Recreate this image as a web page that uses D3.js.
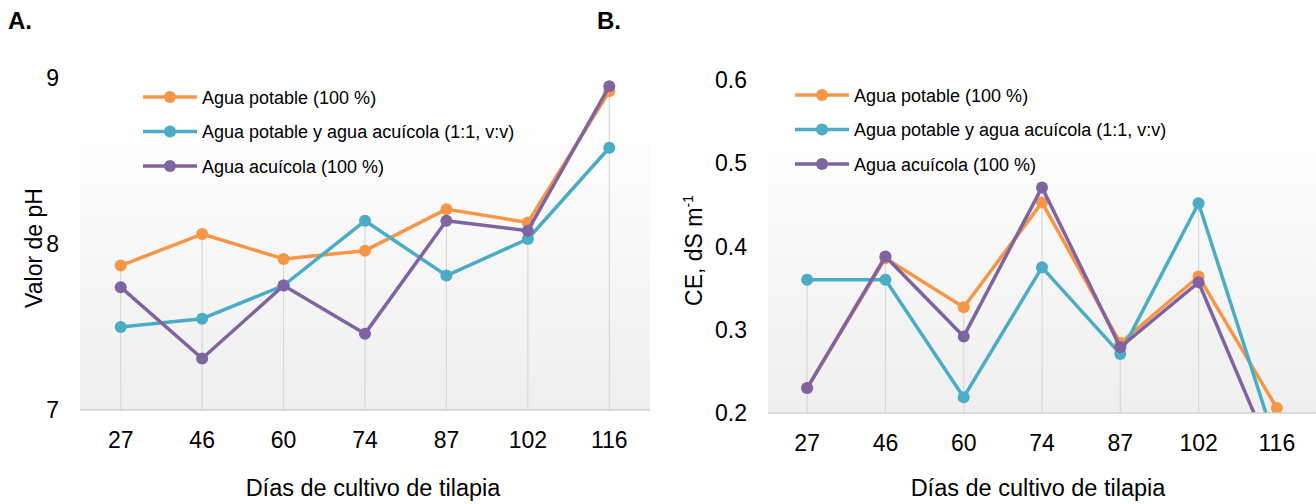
<!DOCTYPE html>
<html>
<head>
<meta charset="utf-8">
<script src="https://cdn.jsdelivr.net/npm/d3@7"></script>
<style>
  body { margin: 0; background: #fff; }
  svg { display: block; font-family: "Liberation Sans", Arial, sans-serif; }
</style>
</head>
<body>
<div id="container"></div>
<script>
// ---------- DATA ----------
const days = ['27', '46', '60', '74', '87', '102', '116'];
const seriesNames = [
    'Agua potable (100 %)',
    'Agua potable y agua acuícola (1:1, v:v)',
    'Agua acuícola (100 %)'
];
const seriesColors = ['#f79646', '#4bacc6', '#8064a2'];

// pH
const phPotable  = [7.87, 8.06, 7.91, 7.96, 8.21, 8.13, 8.92];
const phMezcla   = [7.50, 7.55, 7.75, 8.14, 7.81, 8.03, 8.58];
const phAcuicola = [7.74, 7.31, 7.75, 7.46, 8.14, 8.08, 8.95];
const phTicks = [7, 8, 9];

// CE, dS m-1
const cePotable  = [0.230, 0.386, 0.327, 0.453, 0.284, 0.364, 0.206];
const ceMezcla   = [0.360, 0.360, 0.219, 0.375, 0.271, 0.452, 0.159];
const ceAcuicola = [0.230, 0.388, 0.292, 0.471, 0.279, 0.357, 0.135];
const ceTicks = [0.2, 0.3, 0.4, 0.5, 0.6];

const W = 1316, H = 504;
const svg = d3.select('#container').append('svg')
    .attr('width', W)
    .attr('height', H);

const defs = svg.append('defs');
const grad = defs.append('linearGradient')
    .attr('id', 'bg')
    .attr('x1', 0).attr('y1', 0).attr('x2', 0).attr('y2', 1);
grad.append('stop').attr('offset', '0%').attr('stop-color', '#fefefe');
grad.append('stop').attr('offset', '100%').attr('stop-color', '#efefef');

function panel({ id, letter, letterX, left, right, top, bottom, bgTop, domain, ticks, fmt,
                 series, legendX, legendY, tickX, yTitleX, yTitle, xTitleX }) {
    const g = svg.append('g');

    const x = d3.scaleBand().domain(days).range([left, right]);
    const y = d3.scaleLinear().domain(domain).range([bottom, top]);

    g.append('text')
        .attr('x', letterX).attr('y', 29)
        .attr('font-size', 24).attr('font-weight', 'bold')
        .text(letter);

    // plot area
    g.append('rect')
        .attr('x', left).attr('y', bgTop)
        .attr('width', right - left).attr('height', bottom - bgTop)
        .attr('fill', 'url(#bg)');

    defs.append('clipPath').attr('id', 'clip' + id)
        .append('rect')
        .attr('x', left).attr('y', 0)
        .attr('width', right - left + 20).attr('height', bottom);

    const plot = g.append('g').attr('clip-path', `url(#clip${id})`);

    // drop lines
    plot.selectAll('line.drop')
        .data(days)
        .join('line')
        .attr('class', 'drop')
        .attr('x1', d => x(d) + x.bandwidth() / 2)
        .attr('x2', d => x(d) + x.bandwidth() / 2)
        .attr('y1', (d, i) => y(d3.max(series, s => s[i])))
        .attr('y2', bottom)
        .attr('stroke', '#d9d9d9')
        .attr('stroke-width', 1.2);

    // axis line
    g.append('line')
        .attr('x1', left).attr('x2', right)
        .attr('y1', bottom).attr('y2', bottom)
        .attr('stroke', '#d0d0d0')
        .attr('stroke-width', 1.5);

    // y tick labels
    g.selectAll('text.ytick')
        .data(ticks)
        .join('text')
        .attr('class', 'ytick')
        .attr('x', tickX)
        .attr('y', d => y(d) + 8)
        .attr('text-anchor', 'end')
        .attr('font-size', 23)
        .text(fmt);

    // x tick labels
    g.selectAll('text.xtick')
        .data(days)
        .join('text')
        .attr('class', 'xtick')
        .attr('x', d => x(d) + x.bandwidth() / 2)
        .attr('y', bottom + 38)
        .attr('text-anchor', 'middle')
        .attr('font-size', 23)
        .text(d => d);

    const line = d3.line()
        .x((d, i) => x(days[i]) + x.bandwidth() / 2)
        .y(d => y(d));

    series.forEach((s, k) => {
        plot.append('path')
            .attr('d', line(s))
            .attr('fill', 'none')
            .attr('stroke', seriesColors[k])
            .attr('stroke-width', 3.5)
            .attr('stroke-linejoin', 'round');
        plot.selectAll(null)
            .data(s)
            .join('circle')
            .attr('cx', (d, i) => x(days[i]) + x.bandwidth() / 2)
            .attr('cy', d => y(d))
            .attr('r', 6)
            .attr('fill', seriesColors[k]);
    });

    // legend
    const lg = g.append('g').attr('transform', `translate(${legendX},${legendY})`);
    seriesNames.forEach((name, k) => {
        const row = lg.append('g').attr('transform', `translate(0,${k * 34.5})`);
        row.append('line')
            .attr('x1', 0).attr('x2', 54)
            .attr('stroke', seriesColors[k])
            .attr('stroke-width', 3.5);
        row.append('circle')
            .attr('cx', 27).attr('r', 6)
            .attr('fill', seriesColors[k]);
        row.append('text')
            .attr('x', 59).attr('y', 6.5)
            .attr('font-size', 18)
            .text(name);
    });

    // axis titles
    g.append('text')
        .attr('transform', `translate(${yTitleX},${(top + bottom) / 2 + 4}) rotate(-90)`)
        .attr('text-anchor', 'middle')
        .attr('font-size', 23)
        .call(yTitle);

    g.append('text')
        .attr('x', xTitleX)
        .attr('y', 496)
        .attr('text-anchor', 'middle')
        .attr('font-size', 23.5)
        .text('Días de cultivo de tilapia');
}

panel({
    id: 'A', letter: 'A.', letterX: 8,
    left: 80, right: 650, top: 78, bottom: 410, bgTop: 122,
    domain: [7, 9], ticks: phTicks, fmt: d => d3.format('d')(d),
    series: [phPotable, phMezcla, phAcuicola],
    legendX: 143, legendY: 97, tickX: 59, yTitleX: 42,
    yTitle: t => t.text('Valor de pH'),
    xTitleX: 373
});

panel({
    id: 'B', letter: 'B.', letterX: 597,
    left: 768, right: 1316, top: 80, bottom: 413, bgTop: 125,
    domain: [0.2, 0.6], ticks: ceTicks, fmt: d => d3.format('.1f')(d),
    series: [cePotable, ceMezcla, ceAcuicola],
    legendX: 795, legendY: 95, tickX: 747, yTitleX: 702,
    yTitle: t => {
        t.append('tspan').text('CE, dS m');
        t.append('tspan').attr('dy', -9).attr('font-size', 14).text('-1');
    },
    xTitleX: 1038
});
</script>
</body>
</html>
